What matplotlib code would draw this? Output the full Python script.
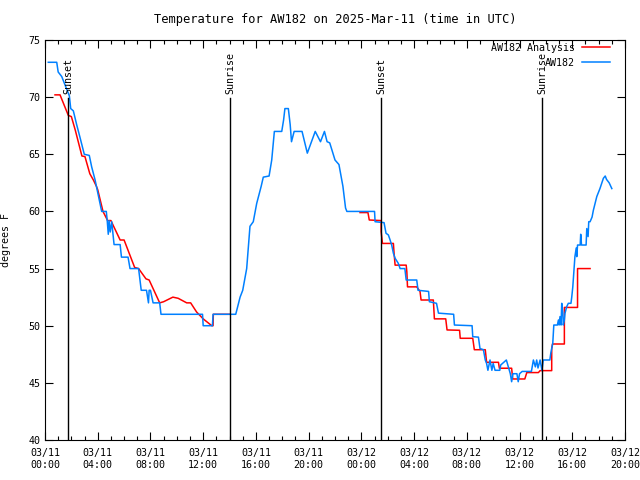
import pandas as pd
import matplotlib
matplotlib.use("Agg")
import matplotlib.pyplot as plt
import matplotlib.dates as mdates
from matplotlib.ticker import MultipleLocator

plt.rcParams['font.family'] = ['DejaVu Sans Mono']
plt.rcParams['font.size'] = 7.2

start = pd.Timestamp("2025-03-11 00:00")

# hours since 03/11 00:00 UTC
ana1_h = [0.76, 1.14, 1.77, 2.0, 2.3, 2.8, 3.03, 3.4, 3.67, 3.9, 4.0, 4.4, 4.75, 5.0,
          5.7, 6.0, 6.8, 7.1, 7.66, 7.9, 8.7, 9.0, 9.7, 10.1, 10.75, 11.05, 11.5,
          12.0, 12.65, 12.75, 12.77, 14.0]
ana1_t = [70.2, 70.2, 68.4, 68.3, 67.1, 64.85, 64.8, 63.3, 62.75, 62.2, 61.9, 60.0,
          59.2, 59.2, 57.5, 57.5, 55.1, 55.0, 54.1, 54.0, 52.0, 52.1, 52.5, 52.4,
          52.0, 52.0, 51.2, 50.6, 50.0, 50.0, 51.0, 51.0]

ana2_h = [23.9, 24.5, 24.6, 25.5, 25.5, 25.6, 26.43, 26.48, 26.56, 27.4, 27.45, 27.5,
          28.2, 28.45, 28.53, 29.46, 29.54, 30.4, 30.5, 31.45, 31.5, 32.45, 32.57,
          33.4, 33.46, 33.5, 34.4, 34.47, 35.4, 35.48, 36.4, 36.55, 37.43, 37.56,
          38.44, 38.44, 38.5, 39.4, 39.4, 40.4, 40.4, 41.35]
ana2_t = [59.9, 59.9, 59.25, 59.2, 58.23, 57.2, 57.2, 56.34, 55.3, 55.3, 54.73, 53.4,
          53.4, 53.0, 52.25, 52.25, 50.6, 50.6, 49.63, 49.6, 48.9, 48.9, 47.9, 47.9,
          47.24, 46.8, 46.8, 46.28, 46.28, 45.34, 45.34, 45.9, 45.9, 46.07, 46.07,
          48.0, 48.4, 48.4, 51.6, 51.6, 55.0, 55.0]

obs_h = [0.25, 0.89, 1.0, 1.27, 1.85, 1.95, 2.15, 2.4, 2.65, 2.98, 3.36, 3.54, 3.8,
         4.3, 4.65, 4.72, 4.8, 4.86, 4.95, 5.06, 5.24, 5.7, 5.8, 6.3, 6.45, 7.1, 7.3,
         7.7, 7.85, 7.9, 8.0, 8.2, 8.7, 8.8, 11.95, 12.0, 12.7, 12.75, 14.47, 14.8,
         15.0, 15.3, 15.55, 15.8, 16.06, 16.4, 16.56, 17.0, 17.2, 17.4, 17.96, 18.1,
         18.2, 18.46, 18.6, 18.7, 18.9, 19.5, 19.9, 20.5, 20.9, 21.2, 21.4, 21.6,
         22.0, 22.3, 22.6, 22.8, 22.9, 25.0, 25.04, 25.72,
         25.87, 26.05, 26.18, 26.3, 26.43, 26.56, 26.8, 26.94, 27.3, 27.4, 28.2, 28.3,
         29.1, 29.16, 29.7, 29.85, 31.0, 31.06, 32.4, 32.45, 32.88, 33.0, 33.26, 33.4,
         33.5, 33.6, 33.76, 33.9, 34.0, 34.14, 34.5, 34.57, 35.0, 35.15, 35.3, 35.4,
         35.5, 35.8, 35.9, 36.0, 36.2, 36.9, 37.05, 37.2, 37.3, 37.4, 37.56, 37.7,
         37.8, 38.3, 38.37, 38.44, 38.52, 38.57, 38.6, 38.87, 38.95, 39.0, 39.07,
         39.15, 39.2, 39.28, 39.32, 39.4, 39.45, 39.58, 39.7, 39.9, 39.96, 40.04,
         40.1, 40.2, 40.3, 40.34, 40.4, 40.6, 40.64, 40.7, 41.05, 41.1, 41.2, 41.25,
         41.35, 41.5, 41.6, 41.73, 41.86, 42.0, 42.1, 42.24, 42.36, 42.5, 42.6, 42.8,
         43.0]
obs_t = [73.05, 73.05, 72.2, 71.8, 70.1, 69.0, 68.8, 67.6, 66.5, 65.0, 64.9, 63.9, 62.75,
         60.0, 60.0, 59.2, 58.0, 59.2, 58.2, 59.1, 57.1, 57.1, 56.0, 56.0, 55.0, 55.0, 53.1,
         53.1, 52.0, 53.1, 53.1, 52.0, 52.0, 51.0, 51.0, 50.0, 50.0, 51.0, 51.0, 52.5,
         53.1, 55.0, 58.7, 59.1, 60.7, 62.2, 63.0, 63.1, 64.5, 67.0, 67.0, 68.0,
         69.0, 69.0, 67.6, 66.1, 67.0, 67.0, 65.1, 67.0, 66.1, 67.0, 66.1, 66.0,
         64.5, 64.1, 62.2, 60.3, 60.0, 60.0, 59.1, 59.02,
         58.09, 57.94, 57.5, 57.06, 56.34, 55.9, 55.46, 55.0, 55.0, 54.0, 54.0, 53.1,
         53.0, 52.1, 51.96, 51.1, 51.0, 50.06, 50.0, 49.04, 49.0, 48.0, 47.9, 47.0,
         46.7, 46.1, 47.0, 46.1, 46.7, 46.1, 46.1, 46.56, 47.0, 46.4, 45.8, 45.1,
         45.8, 45.8, 45.1, 45.8, 46.0, 46.0, 47.0, 46.4, 47.0, 46.3, 47.0, 46.1,
         47.0, 47.0, 47.6, 48.0, 48.46, 49.5, 50.06, 50.06, 50.5, 50.06, 50.8,
         50.06, 51.96, 51.1, 50.06, 50.5, 51.1, 51.67, 51.96, 51.96, 52.5, 53.4,
         54.4, 56.04, 56.8, 56.04, 57.06, 57.06, 58.0, 57.06, 57.06, 58.5, 57.8, 59.1,
         59.1, 59.5, 60.1, 60.7, 61.3, 61.7, 62.0, 62.5, 62.9, 63.1, 62.8, 62.5,
         62.0]

sun_h = [1.75, 14.03, 25.5, 37.72]
sun_labels = ["Sunset", "Sunrise", "Sunset", "Sunrise"]


def to_time(hours):
    return start + pd.to_timedelta(hours, unit="h")


fig = plt.figure(figsize=(6.4, 4.8), dpi=100)
ax = fig.add_axes([45 / 640, 40 / 480, 580 / 640, 400 / 480])

ax.plot(to_time(ana1_h), ana1_t, color="#ff0000", lw=1.1, label="AW182 Analysis")
ax.plot(to_time(ana2_h), ana2_t, color="#ff0000", lw=1.1)
ax.plot(to_time(obs_h), obs_t, color="#0080ff", lw=1.1, label="AW182")

for h, lab in zip(sun_h, sun_labels):
    t = to_time(h)
    ax.plot([t, t], [40, 69.9], color="black", lw=1)
    ax.text(t, 70.3, lab, rotation=90, ha="center", va="bottom")

ax.set_xlim(start, to_time(44))
ax.set_ylim(40, 75)
ax.yaxis.set_major_locator(MultipleLocator(5))
ax.xaxis.set_major_locator(mdates.HourLocator(byhour=range(0, 24, 4)))
ax.xaxis.set_minor_locator(mdates.HourLocator())
ax.xaxis.set_major_formatter(mdates.DateFormatter("%m/%d\n%H:%M"))
ax.tick_params(which="both", direction="in", top=True, right=True)
ax.tick_params(which="major", length=6, width=0.8)
ax.tick_params(which="minor", length=3, width=0.8)
ax.tick_params(axis="x", pad=6)

ax.set_title("Temperature for AW182 on 2025-Mar-11 (time in UTC)", pad=12)
ax.set_ylabel("degrees F", labelpad=12)
ax.legend(loc="upper right", bbox_to_anchor=(565 / 580, 397 / 400), frameon=False,
          markerfirst=False, handlelength=2.8, handletextpad=0.7,
          borderpad=0, borderaxespad=0, labelspacing=0.5)

fig.savefig("out.png", dpi=100)
